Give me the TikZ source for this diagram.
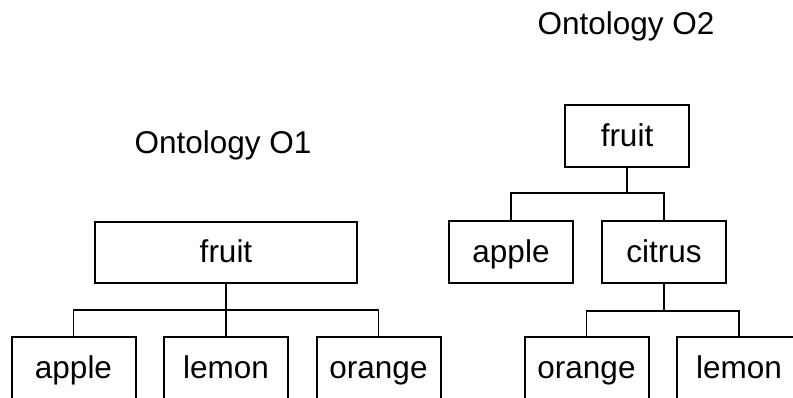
\documentclass[tikz,border=0pt]{standalone}
\usepackage{fontspec}
\setmainfont{Liberation Sans}
\begin{document}
\begin{tikzpicture}[x=1pt,y=-1pt,
  box/.style={draw, line width=2pt, minimum width=124pt, minimum height=62pt,
    inner sep=0pt, text height=21pt, text depth=0pt, font=\fontsize{31.5}{36}\selectfont},
  title/.style={anchor=base, inner sep=0pt, font=\fontsize{31.5}{36}\selectfont},
  stem/.style={line width=2pt},
  branch/.style={line width=1.2pt}]
\useasboundingbox (0,0) rectangle (793,398);
\clip (0,0) rectangle (793,398);
% titles
\node[title] (t2) at (626,35) {Ontology O2};
\node[title] (t1) at (223,154) {Ontology O1};
% ontology O1
\node[box, minimum width=262pt, minimum height=61pt] (f1) at (226,252.5) {fruit};
\node[box] (a1) at (73.5,368) {apple};
\node[box] (l1) at (226,368) {lemon};
\node[box] (o1) at (378.5,368) {orange};
\coordinate (j1) at (226,310);
\draw[stem] (f1.south) -- (j1);
\draw[branch] (j1) -| (a1.north);
\draw[branch] (j1) -- (l1.north);
\draw[branch] (j1) -| (o1.north);
% ontology O2
\node[box] (f2) at (627,136) {fruit};
\node[box] (a2) at (511,252) {apple};
\node[box] (c2) at (664,252) {citrus};
\node[box] (o2) at (586.5,368) {orange};
\node[box] (l2) at (739,368) {lemon};
\coordinate (j2) at (627,193);
\coordinate (j3) at (664,311);
\draw[stem] (f2.south) -- (j2);
\draw[branch] (j2) -| (a2.north);
\draw[branch] (j2) -| (c2.north);
\draw[stem] (c2.south) -- (j3);
\draw[branch] (j3) -| (o2.north);
\draw[branch] (j3) -| (l2.north);
\end{tikzpicture}
\end{document}
